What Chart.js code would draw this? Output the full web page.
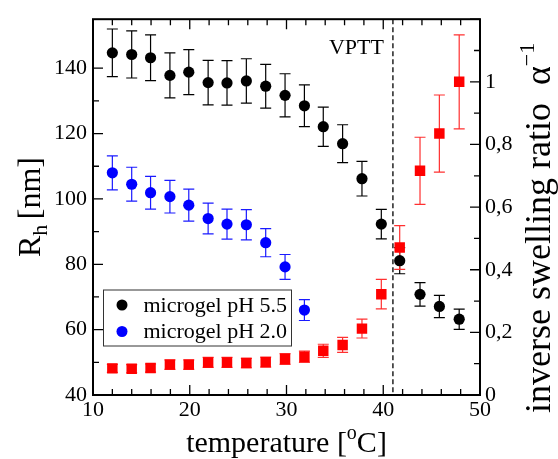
<!DOCTYPE html>
<html>
<head>
<meta charset="utf-8">
<title>Microgel radius vs temperature</title>
<script src="https://cdn.jsdelivr.net/npm/chart.js@4/dist/chart.umd.min.js"></script>
<style>
  body { margin: 0; background: #fff; }
  #wrap { width: 558px; height: 459px; }
</style>
</head>
<body>
<div id="wrap"><canvas id="chart" width="558" height="459"></canvas></div>
<script>
// temperatures [°C] shared by all series
const temps = [12, 14, 15.95, 17.95, 19.9, 21.9, 23.85, 25.85, 27.85, 29.85,
               31.85, 33.8, 35.8, 37.8, 39.8, 41.7, 43.8, 45.8, 47.85];

// hydrodynamic radius, pH 5.5 [nm]
const rh55 = [144.7, 144.2, 143.2, 137.8, 138.8, 135.6, 135.5, 136.1, 134.5, 131.7,
              128.5, 122.1, 116.9, 106.2, 92.3, 81.1, 70.8, 67.1, 63.2];
const rh55Err = [7.3, 7.2, 7.0, 6.9, 6.9, 6.8, 6.8, 6.8, 6.7, 6.6,
                 6.4, 6.0, 5.8, 5.3, 4.5, 4.0, 3.6, 3.4, 3.1];

// hydrodynamic radius, pH 2.0 [nm]
const rh20 = [108.0, 104.5, 101.9, 100.7, 98.1, 94.0, 92.3, 92.1, 86.6, 79.2, 66.0];
const rh20Err = [5.2, 5.2, 5.0, 5.0, 4.9, 4.7, 4.6, 4.6, 4.3, 3.8, 3.2];

// inverse swelling ratio (right axis)
const swell = [0.085, 0.084, 0.086, 0.097, 0.097, 0.104, 0.104, 0.102, 0.105, 0.115,
               0.122, 0.141, 0.160, 0.212, 0.322, 0.471, 0.716, 0.835, 1.0];
const swellErr = [0.013, 0.013, 0.013, 0.015, 0.015, 0.016, 0.016, 0.015, 0.016, 0.017,
                  0.018, 0.021, 0.024, 0.030, 0.047, 0.070, 0.107, 0.123, 0.150];

const vptt = 41;
const FONT = '"Liberation Serif", "Times New Roman", serif';

Chart.defaults.font.family = FONT;
Chart.defaults.font.size = 22;
Chart.defaults.color = '#000';

function toPoints(ys) {
    return ys.map((y, i) => ({ x: temps[i], y: y }));
}

// text with sub/superscript parts, drawn left to right from (x, y) baseline
function richWidth(ctx, parts) {
    let w = 0;
    parts.forEach(p => {
        ctx.font = p.size + 'px ' + FONT;
        w += ctx.measureText(p.t).width;
    });
    return w;
}
function drawRich(ctx, parts, x, y) {
    parts.forEach(p => {
        ctx.font = p.size + 'px ' + FONT;
        ctx.fillText(p.t, x, y + (p.dy || 0));
        x += ctx.measureText(p.t).width;
    });
}

// error bars + VPTT line behind the markers
const behindPlugin = {
    id: 'behind',
    beforeDatasetsDraw(chart) {
        const ctx = chart.ctx;
        const ca = chart.chartArea;
        const xs = chart.scales.x;

        // VPTT dashed line
        const vx = xs.getPixelForValue(vptt);
        ctx.save();
        ctx.strokeStyle = '#000';
        ctx.lineWidth = 1.3;
        ctx.setLineDash([5, 3]);
        ctx.beginPath();
        ctx.moveTo(vx, ca.top);
        ctx.lineTo(vx, ca.bottom);
        ctx.stroke();
        ctx.setLineDash([]);
        ctx.fillStyle = '#000';
        ctx.font = '22px ' + FONT;
        ctx.textAlign = 'right';
        ctx.textBaseline = 'alphabetic';
        ctx.fillText('VPTT', vx - 9, 54);
        ctx.restore();

        chart.data.datasets.forEach(ds => {
            const ys = chart.scales[ds.yAxisID];
            ctx.save();
            ctx.strokeStyle = ds.errColor;
            ctx.lineWidth = 1.2;
            ctx.beginPath();
            ds.data.forEach((p, i) => {
                const e = ds.errors[i];
                const px = xs.getPixelForValue(p.x);
                const top = ys.getPixelForValue(p.y + e);
                const bot = ys.getPixelForValue(p.y - e);
                ctx.moveTo(px, top); ctx.lineTo(px, bot);
                ctx.moveTo(px - 5.5, top); ctx.lineTo(px + 5.5, top);
                ctx.moveTo(px - 5.5, bot); ctx.lineTo(px + 5.5, bot);
            });
            ctx.stroke();
            ctx.restore();
        });
    }
};

// frame, inward ticks, axis titles and boxed legend
const framePlugin = {
    id: 'frame',
    afterDraw(chart) {
        const ctx = chart.ctx;
        const ca = chart.chartArea;
        ctx.save();
        ctx.strokeStyle = '#000';

        // ticks
        ctx.lineWidth = 1.3;
        ctx.beginPath();
        const onStep = (v, step) => Math.abs(v / step - Math.round(v / step)) < 1e-6;
        chart.scales.x.ticks.forEach(t => {
            if (!onStep(t.value, 2)) return;
            const px = chart.scales.x.getPixelForValue(t.value);
            const len = onStep(t.value, 10) ? 10 : 6;
            ctx.moveTo(px, ca.bottom); ctx.lineTo(px, ca.bottom - len);
            ctx.moveTo(px, ca.top); ctx.lineTo(px, ca.top + len);
        });
        chart.scales.y.ticks.forEach(t => {
            if (!onStep(t.value, 10)) return;
            const py = chart.scales.y.getPixelForValue(t.value);
            const len = onStep(t.value, 20) ? 10 : 6;
            ctx.moveTo(ca.left, py); ctx.lineTo(ca.left + len, py);
        });
        chart.scales.y1.ticks.forEach(t => {
            if (!onStep(t.value, 0.1)) return;
            const py = chart.scales.y1.getPixelForValue(t.value);
            const len = onStep(t.value, 0.2) ? 10 : 6;
            ctx.moveTo(ca.right, py); ctx.lineTo(ca.right - len, py);
        });
        ctx.stroke();

        // frame
        ctx.lineWidth = 2;
        ctx.strokeRect(ca.left, ca.top, ca.right - ca.left, ca.bottom - ca.top);

        // axis titles
        ctx.fillStyle = '#000';
        ctx.textAlign = 'left';
        ctx.textBaseline = 'alphabetic';
        const xt = [{ t: 'temperature [', size: 30 }, { t: 'o', size: 20, dy: -13 }, { t: 'C]', size: 30 }];
        drawRich(ctx, xt, (ca.left + ca.right) / 2 - richWidth(ctx, xt) / 2, 452);

        const yt = [{ t: 'R', size: 32 }, { t: 'h ', size: 22, dy: 7 }, { t: '[nm]', size: 32 }];
        ctx.save();
        ctx.translate(40, (ca.top + ca.bottom) / 2);
        ctx.rotate(-Math.PI / 2);
        drawRich(ctx, yt, -richWidth(ctx, yt) / 2, 0);
        ctx.restore();

        const rt = [{ t: 'inverse swelling ratio  \u03B1', size: 36 }, { t: '\u22121', size: 22, dy: -16 }];
        ctx.save();
        ctx.translate(550, 413);
        ctx.rotate(-Math.PI / 2);
        drawRich(ctx, rt, 0, 0);
        ctx.restore();

        // legend box
        const lx = ca.left + 10.5, ly = 290, lw = 188, lh = 56;
        ctx.lineWidth = 1;
        ctx.strokeStyle = '#333';
        ctx.strokeRect(lx, ly, lw, lh);
        ctx.font = '22px ' + FONT;
        ctx.textBaseline = 'middle';
        chart.data.datasets.filter(ds => ds.inLegend).forEach((ds, i) => {
            const cy = ly + 15 + i * 26.5;
            ctx.fillStyle = ds.backgroundColor;
            ctx.beginPath();
            ctx.arc(lx + 18.5, cy, 5.5, 0, Math.PI * 2);
            ctx.fill();
            ctx.fillStyle = '#000';
            ctx.fillText(ds.label, lx + 40, cy + 1);
        });
        ctx.restore();
    }
};

const chart = new Chart(document.getElementById('chart'), {
    type: 'scatter',
    data: {
        datasets: [
            {
                label: 'microgel pH 5.5',
                data: toPoints(rh55),
                errors: rh55Err,
                errColor: '#000',
                inLegend: true,
                yAxisID: 'y',
                backgroundColor: '#000',
                borderColor: '#000',
                borderWidth: 0,
                pointStyle: 'circle',
                pointRadius: 5.6
            },
            {
                label: 'microgel pH 2.0',
                data: toPoints(rh20),
                errors: rh20Err,
                errColor: '#1a1aff',
                inLegend: true,
                yAxisID: 'y',
                backgroundColor: '#0000ff',
                borderColor: '#0000ff',
                borderWidth: 0,
                pointStyle: 'circle',
                pointRadius: 5.6
            },
            {
                label: 'inverse swelling ratio',
                data: toPoints(swell),
                errors: swellErr,
                errColor: '#ff3030',
                inLegend: false,
                yAxisID: 'y1',
                backgroundColor: '#ff0000',
                borderColor: '#ff0000',
                borderWidth: 0,
                pointStyle: 'rect',
                pointRadius: 7.4
            }
        ]
    },
    options: {
        responsive: false,
        animation: false,
        events: [],
        layout: { padding: { top: 8, left: 0, right: 0, bottom: 0 } },
        plugins: {
            legend: { display: false },
            tooltip: { enabled: false }
        },
        scales: {
            x: {
                type: 'linear',
                min: 10,
                max: 50,
                grid: { display: false, drawTicks: false },
                border: { display: false },
                ticks: {
                    stepSize: 2,
                    autoSkip: false,
                    maxRotation: 0,
                    padding: 2,
                    color: '#000',
                    font: { family: FONT, size: 22 },
                    callback: v => (Math.abs(v % 10) < 1e-9 ? String(v) : '')
                },
                afterFit: s => { s.height = 64; }
            },
            y: {
                position: 'left',
                min: 40,
                max: 155,
                grid: { display: false, drawTicks: false },
                border: { display: false },
                ticks: {
                    stepSize: 10,
                    autoSkip: false,
                    padding: 6,
                    color: '#000',
                    font: { family: FONT, size: 22 },
                    callback: v => (v % 20 === 0 && v <= 140 ? String(v) : '')
                },
                afterFit: s => { s.width = 93; }
            },
            y1: {
                position: 'right',
                min: 0,
                max: 1.2,
                grid: { display: false, drawTicks: false },
                border: { display: false },
                ticks: {
                    stepSize: 0.1,
                    autoSkip: false,
                    padding: 5,
                    color: '#000',
                    font: { family: FONT, size: 22 },
                    callback: function(v) {
                        const k = Math.round(v * 10);
                        if (k % 2 !== 0 || k > 10) return '';
                        return k % 10 === 0 ? String(k / 10) : (k / 10).toFixed(1).replace('.', ',');
                    }
                },
                afterFit: s => { s.width = 78; }
            }
        }
    },
    plugins: [behindPlugin, framePlugin]
});
</script>
</body>
</html>
